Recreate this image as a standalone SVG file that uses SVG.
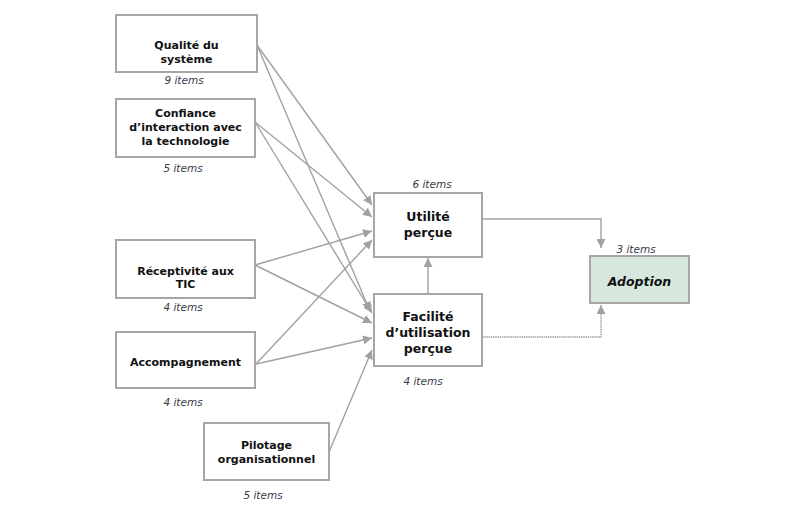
<svg xmlns="http://www.w3.org/2000/svg" width="800" height="510" viewBox="0 0 800 510">
<style>
.box{fill:#ffffff;stroke:#a8a4a8;stroke-width:2}
.adopt{fill:#d6e8de;stroke:#a8a4a8;stroke-width:2}
.t{font-family:"DejaVu Sans",Verdana,sans-serif;font-size:11px;font-weight:bold;fill:#111;text-anchor:middle}
.tb{font-family:"DejaVu Sans",Verdana,sans-serif;font-size:12.5px;font-weight:bold;fill:#111;text-anchor:middle}
.ta{font-family:"DejaVu Sans",Verdana,sans-serif;font-size:12.5px;font-weight:bold;font-style:italic;fill:#111;text-anchor:middle}
.it{font-family:"DejaVu Sans",Verdana,sans-serif;font-size:10.5px;font-style:italic;fill:#3a3a4a;text-anchor:middle}
.c{fill:none;stroke:#a49fa6;stroke-width:1.4}
</style>
<defs>
<marker id="ah" viewBox="0 0 10 10" refX="10" refY="5" markerWidth="9" markerHeight="9" markerUnits="userSpaceOnUse" orient="auto">
<path d="M0,0 L10,5 L0,10 z" fill="#a49fa6"/>
</marker>
</defs>
<g id="connectors">
<line class="c" x1="257" y1="45" x2="372" y2="205" marker-end="url(#ah)"/>
<line class="c" x1="257" y1="45" x2="370" y2="311" marker-end="url(#ah)"/>
<line class="c" x1="255" y1="122" x2="372" y2="217" marker-end="url(#ah)"/>
<line class="c" x1="255" y1="122" x2="372" y2="313" marker-end="url(#ah)"/>
<line class="c" x1="255" y1="265" x2="372" y2="231" marker-end="url(#ah)"/>
<line class="c" x1="255" y1="265" x2="372" y2="323" marker-end="url(#ah)"/>
<line class="c" x1="256" y1="364" x2="372" y2="240" marker-end="url(#ah)"/>
<line class="c" x1="256" y1="364" x2="372" y2="338" marker-end="url(#ah)"/>
<line class="c" x1="329" y1="452" x2="372" y2="350" marker-end="url(#ah)"/>
<line class="c" x1="428" y1="294" x2="428" y2="258" marker-end="url(#ah)"/>
<polyline class="c" points="482,219 601,219 601,248" marker-end="url(#ah)"/>
<polyline class="c" points="482,337 601,337 601,305" stroke-dasharray="1.5 0.7" marker-end="url(#ah)"/>
</g>
<g id="qualite">
<rect class="box" x="116" y="15" width="141" height="57"/>
<text class="t" x="186.5" y="49">Qualité du</text>
<text class="t" x="186.5" y="63">système</text>
<text class="it" x="184" y="84">9 items</text>
</g>
<g id="confiance">
<rect class="box" x="116" y="99" width="139" height="58"/>
<text class="t" x="185.5" y="117">Confiance</text>
<text class="t" x="185.5" y="131">d’interaction avec</text>
<text class="t" x="185.5" y="145">la technologie</text>
<text class="it" x="183" y="172">5 items</text>
</g>
<g id="receptivite">
<rect class="box" x="116" y="240" width="139" height="58"/>
<text class="t" x="185.5" y="275">Réceptivité aux</text>
<text class="t" x="185.5" y="288">TIC</text>
<text class="it" x="183" y="311">4 items</text>
</g>
<g id="accompagnement">
<rect class="box" x="116" y="332" width="139" height="56"/>
<text class="t" x="185.5" y="366">Accompagnement</text>
<text class="it" x="183" y="406">4 items</text>
</g>
<g id="pilotage">
<rect class="box" x="204" y="423" width="125" height="57"/>
<text class="t" x="266.5" y="449">Pilotage</text>
<text class="t" x="266.5" y="463">organisationnel</text>
<text class="it" x="263" y="499">5 items</text>
</g>
<g id="utilite">
<rect class="box" x="374" y="193" width="108" height="64"/>
<text class="tb" x="428" y="221">Utilité</text>
<text class="tb" x="428" y="237">perçue</text>
<text class="it" x="432" y="188">6 items</text>
</g>
<g id="facilite">
<rect class="box" x="374" y="294" width="108" height="72"/>
<text class="tb" x="428" y="321">Facilité</text>
<text class="tb" x="428" y="337">d’utilisation</text>
<text class="tb" x="428" y="353">perçue</text>
<text class="it" x="423" y="385">4 items</text>
</g>
<g id="adoption">
<rect class="adopt" x="590" y="256" width="99" height="47"/>
<text class="ta" x="639.5" y="286">Adoption</text>
<text class="it" x="636" y="253">3 items</text>
</g>
</svg>
